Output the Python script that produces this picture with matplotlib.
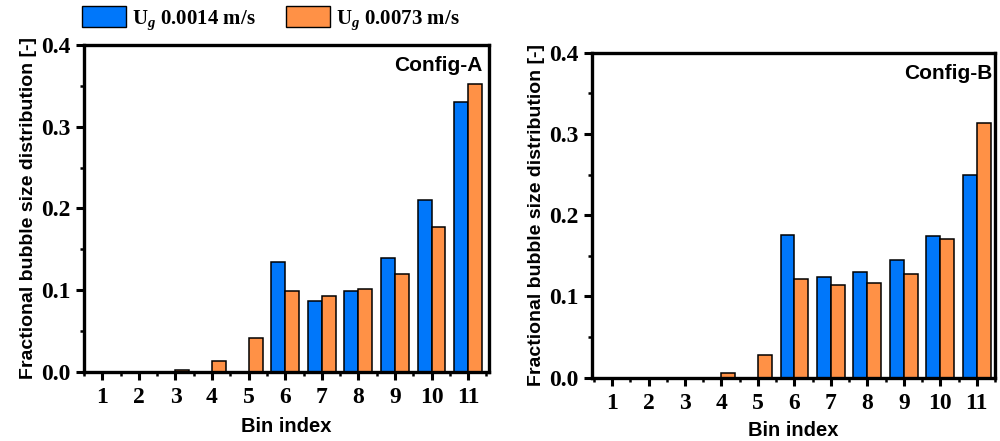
import matplotlib
matplotlib.use("Agg")
import matplotlib.pyplot as plt
import numpy as np
from matplotlib.ticker import MultipleLocator
from matplotlib.patches import Patch

plt.rcParams['mathtext.fontset'] = 'custom'
plt.rcParams['mathtext.rm'] = 'Liberation Serif:bold'
plt.rcParams['mathtext.it'] = 'Liberation Serif:bold:italic'

bins = [1, 2, 3, 4, 5, 6, 7, 8, 9, 10, 11]
a_low = [0.0, 0.0, 0.0, 0.0, 0.0, 0.135, 0.087, 0.099, 0.139, 0.210, 0.330]
a_high = [0.0, 0.0, 0.002, 0.014, 0.042, 0.099, 0.093, 0.101, 0.120, 0.177, 0.352]
b_low = [0.0, 0.0, 0.0, 0.0, 0.0, 0.176, 0.124, 0.130, 0.145, 0.175, 0.249]
b_high = [0.0, 0.0, 0.0, 0.006, 0.028, 0.122, 0.114, 0.116, 0.128, 0.171, 0.314]
series_labels = [r'U$_{g}$ 0.0014 m/s', r'U$_{g}$ 0.0073 m/s']
panel_titles = ['Config-A', 'Config-B']

blue = '#0077FA'
orange = '#FF9146'

fig = plt.figure(figsize=(10, 4.41), dpi=100)
ax1 = fig.add_axes([0.084, 0.1565, 0.405, 0.7415])
ax2 = fig.add_axes([0.592, 0.1435, 0.403, 0.737])

serif = 'Liberation Serif'
sans = 'Liberation Sans'
w = 0.38
x = np.array(bins)

def draw(ax, lo, hi, title, xlim, tx, xlpad):
    ax.bar(x - w/2, lo, width=w, color=blue, edgecolor='black', linewidth=1.1, zorder=2)
    ax.bar(x + w/2, hi, width=w, color=orange, edgecolor='black', linewidth=1.1, zorder=2)
    ax.set_xlim(*xlim)
    ax.set_ylim(0, 0.4)
    ax.set_xticks(bins)
    ax.set_yticks([0.0, 0.1, 0.2, 0.3, 0.4])
    ax.set_yticklabels(['0.0', '0.1', '0.2', '0.3', '0.4'])
    ax.xaxis.set_minor_locator(MultipleLocator(0.5))
    ax.yaxis.set_minor_locator(MultipleLocator(0.05))
    ax.tick_params(which='major', direction='out', length=6, width=2.2)
    ax.tick_params(axis='x', which='major', pad=5)
    ax.tick_params(which='minor', direction='out', length=3, width=1.8)
    ax.tick_params(top=False, right=False, which='both')
    for lab in ax.get_xticklabels() + ax.get_yticklabels():
        lab.set_fontfamily(serif)
        lab.set_fontweight('bold')
        lab.set_fontsize(17)
    for s in ax.spines.values():
        s.set_linewidth(2.4)
    ax.set_xlabel('Bin index', fontfamily=sans, fontweight='bold', fontsize=14.5, labelpad=xlpad)
    ax.set_ylabel('Fractional bubble size distribution [-]', fontfamily=sans,
                  fontweight='bold', fontsize=14, labelpad=3)
    ax.text(tx, 0.965, title, transform=ax.transAxes, ha='right', va='top',
            fontfamily=sans, fontweight='bold', fontsize=15)

draw(ax1, a_low, a_high, panel_titles[0], (0.5, 11.57), 0.985, 6)
draw(ax2, b_low, b_high, panel_titles[1], (0.45, 11.5), 0.995, 5)

handles = [Patch(facecolor=blue, edgecolor='black', linewidth=1.0),
           Patch(facecolor=orange, edgecolor='black', linewidth=1.0)]
fig.legend(handles, series_labels, loc='center left', bbox_to_anchor=(0.082, 0.957),
           ncol=2, frameon=False, handlelength=2.1, handleheight=1.2,
           handletextpad=0.3, columnspacing=1.45, borderaxespad=0, borderpad=0,
           prop={'family': serif, 'weight': 'bold', 'size': 15})

fig.savefig('out.png', dpi=100)
